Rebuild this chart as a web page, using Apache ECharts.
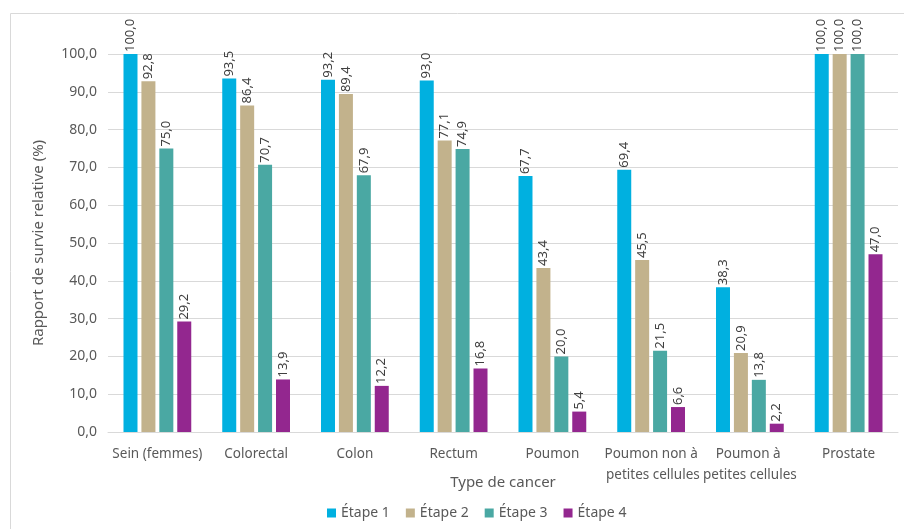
<!DOCTYPE html>
<html>
<head>
<meta charset="utf-8">
<script src="https://cdn.jsdelivr.net/npm/echarts@6/dist/echarts.min.js"></script>
<style>
  html, body { margin: 0; padding: 0; background: #fff; }
  #chart { width: 904px; height: 529px; }
</style>
</head>
<body>
<div id="chart"></div>
<script>
var categories = ['Sein (femmes)', 'Colorectal', 'Colon', 'Rectum', 'Poumon',
  'Poumon non à petites cellules', 'Poumon à petites cellules', 'Prostate'];
var seriesNames = ['Étape 1', 'Étape 2', 'Étape 3', 'Étape 4'];
var etape1 = [100.0, 93.5, 93.2, 93.0, 67.7, 69.4, 38.3, 100.0];
var etape2 = [92.8, 86.4, 89.4, 77.1, 43.4, 45.5, 20.9, 100.0];
var etape3 = [75.0, 70.7, 67.9, 74.9, 20.0, 21.5, 13.8, 100.0];
var etape4 = [29.2, 13.9, 12.2, 16.8, 5.4, 6.6, 2.2, 47.0];
var colors = ['#00B0E0', '#C2B28C', '#4AA8A3', '#93278F'];

var chart = echarts.init(document.getElementById('chart'));
var font = 'Noto Sans';

function fmt(v) {
  return Number(v).toFixed(1).replace('.', ',');
}

var series = [etape1, etape2, etape3, etape4].map(function (d, i) {
  return {
    name: seriesNames[i],
    type: 'bar',
    data: d,
    barWidth: 14,
    barGap: '28%',
    itemStyle: { color: colors[i] },
    label: {
      show: true,
      position: 'top',
      rotate: 90,
      align: 'left',
      verticalAlign: 'middle',
      distance: 2,
      fontFamily: font,
      fontSize: 13,
      color: '#404040',
      formatter: function (p) { return fmt(p.value); }
    }
  };
});

var option = {
  animation: false,
  graphic: [{
    type: 'rect',
    left: 8, top: 11,
    shape: { width: 894, height: 516 },
    style: { fill: 'none', stroke: '#d9d9d9', lineWidth: 1 },
    silent: true
  }],
  grid: { left: 108, right: 6, top: 54, bottom: 97 },
  legend: {
    data: seriesNames,
    top: 501,
    left: 322,
    itemWidth: 9,
    itemHeight: 9,
    itemGap: 16,
    icon: 'rect',
    textStyle: { fontFamily: font, fontSize: 14, color: '#595959' }
  },
  xAxis: {
    type: 'category',
    data: categories,
    name: 'Type de cancer',
    nameLocation: 'middle',
    nameGap: 43,
    nameMoveOverlap: false,
    nameTextStyle: { fontFamily: font, fontSize: 15, color: '#595959' },
    axisLine: { lineStyle: { color: '#d9d9d9' } },
    axisTick: { show: false },
    axisLabel: {
      interval: 0,
      margin: 12,
      width: 102,
      overflow: 'break',
      fontFamily: font,
      fontSize: 13.5,
      color: '#595959',
      lineHeight: 21
    }
  },
  yAxis: {
    type: 'value',
    min: 0,
    max: 100,
    interval: 10,
    name: 'Rapport de survie relative (%)',
    nameLocation: 'middle',
    nameGap: 62,
    nameTextStyle: { fontFamily: font, fontSize: 15, color: '#595959' },
    axisLine: { show: false },
    axisTick: { show: false },
    splitLine: { lineStyle: { color: '#d9d9d9' } },
    axisLabel: {
      margin: 11,
      fontFamily: font,
      fontSize: 14,
      color: '#595959',
      formatter: function (v) { return fmt(v); }
    }
  },
  series: series
};

chart.setOption(option);
</script>
</body>
</html>
